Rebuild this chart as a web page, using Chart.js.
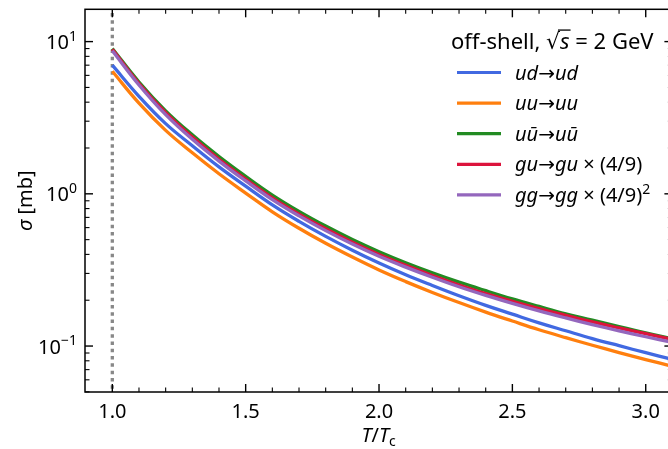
<!DOCTYPE html>
<html><head><meta charset="utf-8">
<script src="https://cdn.jsdelivr.net/npm/chart.js@4.4.1/dist/chart.umd.min.js"></script>
<style>
html,body{margin:0;padding:0;background:#fff;overflow:hidden;width:668px;height:449px;}
#wrap{position:absolute;left:0;top:0;width:680px;height:449px;}
</style></head><body>
<div id="wrap"><canvas id="c"></canvas></div>
<script>
// ---- data ----
const tOverTc = [1.0,1.1,1.2,1.3,1.4,1.5,1.6,1.7,1.8,1.9,2.0,2.1,2.2,2.3,2.4,2.5,2.6,2.7,2.8,2.9,3.0,3.1];
const sigmaUD    = [7.00,4.37,2.89,2.07,1.503,1.122,0.845,0.659,0.525,0.426,0.351,0.294,0.250,0.214,0.185,0.162,0.142,0.126,0.112,0.1005,0.0904,0.0817];
const sigmaUU    = [6.38,3.94,2.61,1.86,1.355,1.012,0.762,0.594,0.473,0.384,0.316,0.265,0.225,0.193,0.167,0.146,0.128,0.1135,0.1012,0.0906,0.0815,0.0736];
const sigmaUUbar = [9.02,5.43,3.51,2.44,1.758,1.303,0.982,0.767,0.614,0.501,0.417,0.353,0.303,0.263,0.231,0.204,0.182,0.163,0.148,0.134,0.122,0.112];
const sigmaGU    = [8.91,5.31,3.41,2.36,1.687,1.250,0.942,0.736,0.589,0.481,0.400,0.339,0.291,0.252,0.221,0.197,0.176,0.159,0.144,0.1315,0.1205,0.1107];
const sigmaGG    = [8.71,5.19,3.31,2.28,1.641,1.216,0.916,0.716,0.573,0.468,0.389,0.330,0.283,0.245,0.215,0.1905,0.170,0.153,0.1384,0.1259,0.1151,0.1057];
const tcLineX = [1.0, 1.0];
const tcLineY = [0.01, 100];
const xMajorTicks = [1.0, 1.5, 2.0, 2.5, 3.0];
const xTickLabels = ['1.0', '1.5', '2.0', '2.5', '3.0'];
const yDecadeTicks = [0.1, 1, 10];
const yTickExponents = ['\u22121', '0', '1'];
const legendTitle = [{t:'off-shell, '},{t:'\u221A', root:true},{t:'s', it:true, over:true},{t:' = 2 GeV'}];
const seriesLabels = [
  [{t:'ud\u2192ud', it:true}],
  [{t:'uu\u2192uu', it:true}],
  [{t:'u\u016B\u2192u\u016B', it:true}],
  [{t:'gu\u2192gu', it:true},{t:' \u00D7 (4/9)'}],
  [{t:'gg\u2192gg', it:true},{t:' \u00D7 (4/9)'},{t:'2', sup:true}]
];
const seriesColors = ['#4169e1','#ff7f0e','#228b22','#dc143c','#9467bd'];
const seriesData = [sigmaUD, sigmaUU, sigmaUUbar, sigmaGU, sigmaGG];

const FONT = '"Noto Sans", "DejaVu Sans", sans-serif';
const BASE = 20;

function segFont(s, base){
  const size = s.sup || s.sub ? base*0.7 : base;
  return (s.it ? 'italic ' : '') + size + 'px ' + FONT;
}
function richWidth(ctx, segs, base){
  let w = 0;
  for (const s of segs){ ctx.font = segFont(s, base); w += ctx.measureText(s.t).width; }
  return w;
}
function drawRich(ctx, x, y, segs, base, align){
  const w = richWidth(ctx, segs, base);
  let cx = align === 'right' ? x - w : align === 'center' ? x - w/2 : x;
  let rootStart = null;
  for (const s of segs){
    ctx.font = segFont(s, base);
    const dy = s.sup ? -0.42*base : s.sub ? 0.22*base : 0;
    ctx.fillText(s.t, cx, y + dy);
    const sw = ctx.measureText(s.t).width;
    if (s.root) rootStart = cx + sw*0.85;
    if (s.over && rootStart !== null){
      ctx.save(); ctx.lineWidth = 1.3; ctx.strokeStyle = ctx.fillStyle;
      ctx.beginPath(); ctx.moveTo(rootStart, y - 0.86*base); ctx.lineTo(cx + sw + 1, y - 0.86*base); ctx.stroke(); ctx.restore();
    }
    cx += sw;
  }
}

const framePlugin = {
  id: 'frame',
  afterDatasetsDraw(chart){
    const ctx = chart.ctx, a = chart.chartArea;
    const xs = chart.scales.x, ys = chart.scales.y;
    ctx.save();
    ctx.strokeStyle = '#000'; ctx.fillStyle = '#000';
    const tick = (x1,y1,x2,y2,w) => { ctx.lineWidth = w; ctx.beginPath(); ctx.moveTo(x1,y1); ctx.lineTo(x2,y2); ctx.stroke(); };
    for (let k = 9; k <= 31; k++){
      const v = k/10, px = xs.getPixelForValue(v);
      if (px < a.left + 1 || px > a.right - 1) continue;
      const major = k % 5 === 0, L = major ? 8 : 4.5, w = major ? 1.4 : 1.1;
      tick(px, a.bottom, px, a.bottom - L, w);
      tick(px, a.top, px, a.top + L, w);
    }
    for (let e = -2; e <= 1; e++){
      for (let m = 1; m <= 9; m++){
        const v = m * Math.pow(10, e);
        if (v < ys.min || v > ys.max) continue;
        const py = ys.getPixelForValue(v);
        const major = m === 1, L = major ? 8 : 4.5, w = major ? 1.4 : 1.1;
        tick(a.left, py, a.left + L, py, w);
        tick(a.right, py, a.right - L, py, w);
      }
    }
    ctx.lineWidth = 1.5;
    ctx.strokeRect(a.left, a.top, a.right - a.left, a.bottom - a.top);
    ctx.textBaseline = 'alphabetic';
    xMajorTicks.forEach((v, i) => {
      drawRich(ctx, xs.getPixelForValue(v), 418, [{t: xTickLabels[i]}], BASE, 'center');
    });
    yDecadeTicks.forEach((v, i) => {
      const py = ys.getPixelForValue(v);
      drawRich(ctx, 77, py + 7.5, [{t:'10'},{t: yTickExponents[i], sup:true}], BASE, 'right');
    });
    drawRich(ctx, (a.left + a.right)/2, 442, [{t:'T', it:true},{t:'/'},{t:'T', it:true},{t:'c', sub:true}], BASE, 'center');
    ctx.save();
    ctx.translate(32, (a.top + a.bottom)/2);
    ctx.rotate(-Math.PI/2);
    drawRich(ctx, 0, 0, [{t:'\u03C3', it:true},{t:' [mb]'}], BASE, 'center');
    ctx.restore();
    // legend
    drawRich(ctx, 451, 49, legendTitle, 22, 'left');
    seriesLabels.forEach((segs, i) => {
      const cy = 72.5 + i * 30.6;
      ctx.strokeStyle = seriesColors[i]; ctx.lineWidth = 3.2;
      ctx.beginPath(); ctx.moveTo(457, cy); ctx.lineTo(501, cy); ctx.stroke();
      ctx.fillStyle = '#000';
      drawRich(ctx, 515, cy + 7, segs, BASE, 'left');
    });
    ctx.restore();
  }
};

const orders = [3, 4, 2, 1, 0];
const datasets = seriesData.map((arr, i) => ({
  data: tOverTc.map((x, j) => ({x, y: arr[j]})),
  borderColor: seriesColors[i],
  borderWidth: 3.3,
  pointRadius: 0,
  fill: false,
  tension: 0.4,
  order: orders[i]
}));
datasets.push({
  data: tcLineX.map((x, j) => ({x, y: tcLineY[j]})),
  borderColor: '#888888',
  borderWidth: 3.3,
  borderDash: [3.5, 3.8],
  pointRadius: 0,
  order: 10
});

new Chart(document.getElementById('c'), {
  type: 'line',
  data: { datasets },
  options: {
    responsive: true,
    maintainAspectRatio: false,
    animation: false,
    events: [],
    layout: { padding: { left: 85, right: 680 - 672.4, top: 9.3, bottom: 449 - 392 } },
    scales: {
      x: { type: 'linear', min: 0.8976, max: 3.1, display: false },
      y: { type: 'logarithmic', min: 0.0499, max: 16.3, display: false }
    },
    plugins: { legend: { display: false }, tooltip: { enabled: false } }
  },
  plugins: [framePlugin]
});
</script>
</body></html>
